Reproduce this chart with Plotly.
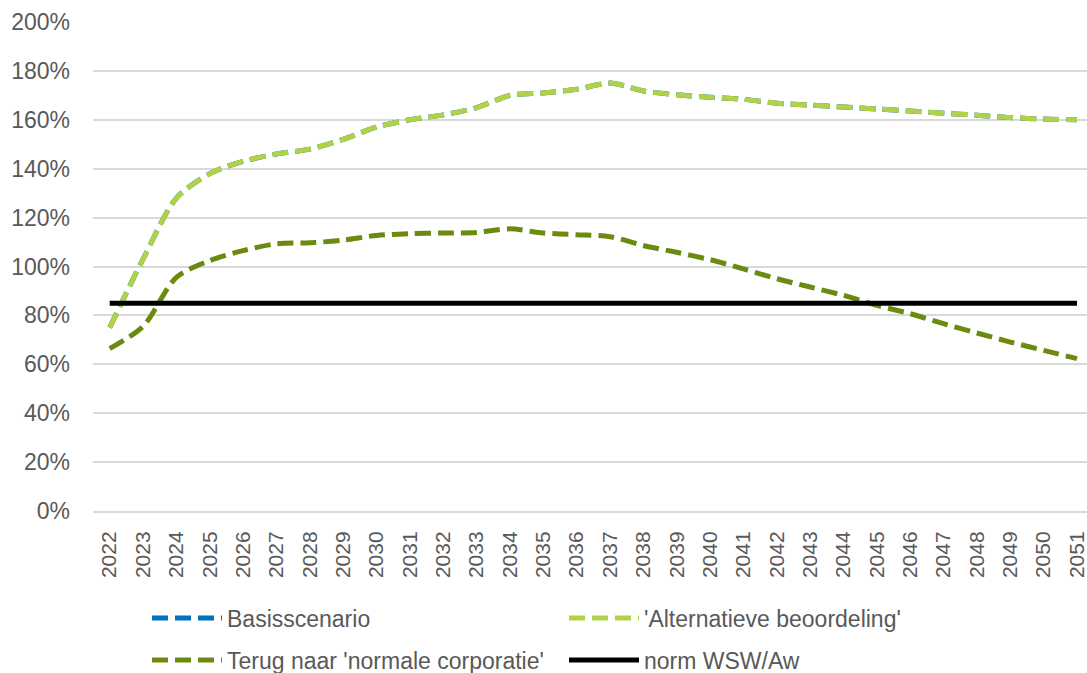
import plotly.graph_objects as go

# Years on the category axis
years = [str(y) for y in range(2022, 2052)]

# Ratio per scenario, in percent
basisscenario = [75, 103, 128, 138, 143, 146, 148, 152, 157, 160, 162, 165, 170, 171, 172.5, 175,
                 171.8, 170.2, 169.2, 168.4, 166.8, 166, 165.2, 164.4, 163.6, 162.7, 161.9, 160.9, 160.3, 160]
alternatieve = [75, 103, 128, 138, 143, 146, 148, 152, 157, 160, 162, 165, 170, 171, 172.5, 175,
                171.8, 170.2, 169.2, 168.4, 166.8, 166, 165.2, 164.4, 163.6, 162.7, 161.9, 160.9, 160.3, 160]
terug_normaal = [66.4, 75.5, 95.6, 102.4, 106.5, 109.3, 109.7, 110.8, 112.7, 113.4, 113.7, 113.9, 115.4,
                 113.7, 113, 112.2, 108.6, 105.8, 102.8, 99, 95, 91.6, 88.2, 84.1, 80.7, 76.6, 72.8, 69.1, 65.7, 62.3]
norm_wsw = [85] * len(years)

y_ticks = [0, 20, 40, 60, 80, 100, 120, 140, 160, 180, 200]
y_tick_labels = [f"{v}%" for v in y_ticks]

FONT = "Liberation Sans, Arial, sans-serif"
GREY_TEXT = "#595959"

fig = go.Figure()

dash = "16px,7px"
fig.add_trace(go.Scatter(
    x=years, y=basisscenario, name="Basisscenario", mode="lines", legend="legend",
    line=dict(color="#0070c0", width=5, dash=dash, shape="spline", smoothing=0.8),
))
fig.add_trace(go.Scatter(
    x=years, y=alternatieve, name="'Alternatieve beoordeling'", mode="lines", legend="legend",
    line=dict(color="#b0d246", width=5, dash=dash, shape="spline", smoothing=0.8),
))
fig.add_trace(go.Scatter(
    x=years, y=terug_normaal, name="Terug naar 'normale corporatie'", mode="lines", legend="legend2",
    line=dict(color="#6b8a10", width=5, dash=dash, shape="spline", smoothing=0.8),
))
fig.add_trace(go.Scatter(
    x=years, y=norm_wsw, name="norm WSW/Aw", mode="lines", legend="legend2",
    line=dict(color="#000000", width=5),
))

legend_style = dict(
    orientation="h",
    xref="container", yref="container",
    x=147 / 1087,
    xanchor="left", yanchor="middle",
    entrywidth=332, entrywidthmode="pixels",
    itemwidth=70,
    font=dict(family=FONT, size=23, color=GREY_TEXT),
    bgcolor="rgba(0,0,0,0)",
    traceorder="normal",
)

fig.update_layout(
    width=1087, height=673,
    margin=dict(l=93, r=0, t=22, b=162),
    paper_bgcolor="white", plot_bgcolor="white",
    font=dict(family=FONT, size=22, color=GREY_TEXT),
    showlegend=True,
    legend=dict(legend_style, y=(673 - 618) / 673),
    legend2=dict(legend_style, y=(673 - 660) / 673),
)

fig.update_xaxes(
    type="category",
    range=[-0.5, 29.3],
    tickangle=-90,
    tickfont=dict(size=21, color=GREY_TEXT),
    ticklabelstandoff=10,
    showgrid=False,
    showline=True, linecolor="#d9d9d9", linewidth=2,
    ticks="",
)

fig.update_yaxes(
    range=[0, 200],
    tickmode="array",
    tickvals=y_ticks,
    ticktext=y_tick_labels,
    tickfont=dict(size=23, color=GREY_TEXT),
    ticklabelstandoff=22,
    showgrid=True, gridcolor="#d9d9d9", gridwidth=2,
    zeroline=False,
    showline=False,
    ticks="",
)

fig.write_html("out.html")
